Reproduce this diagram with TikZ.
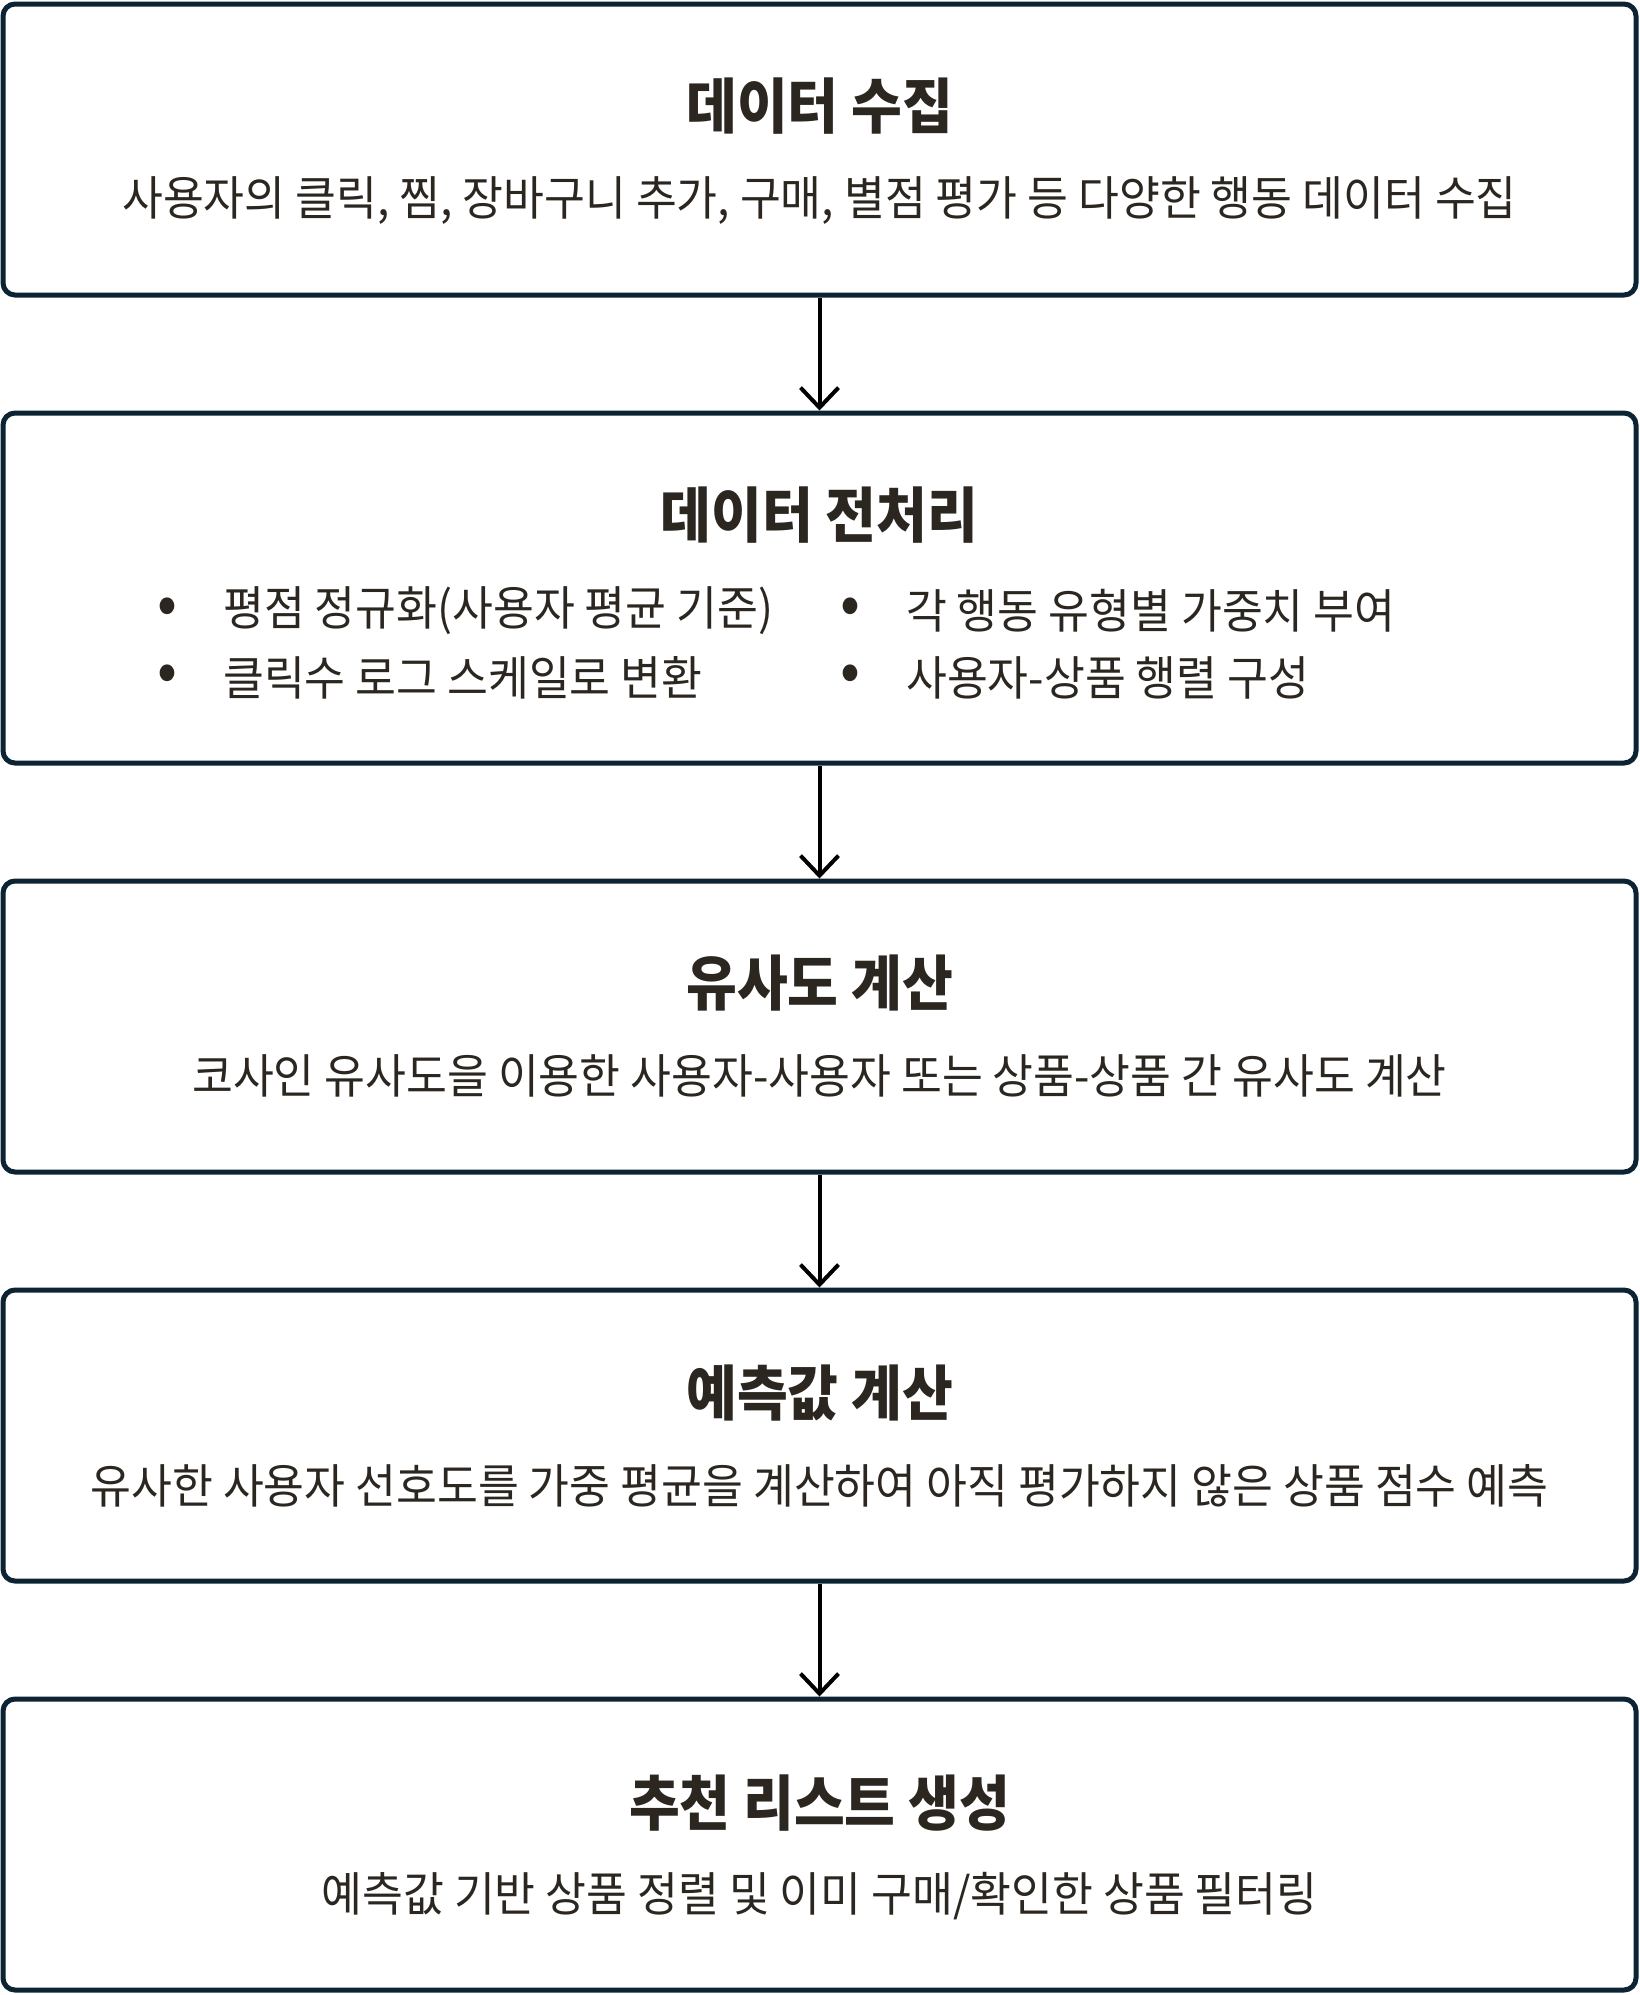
\documentclass[tikz,border=0pt]{standalone}
\usepackage{fontspec}
\setmainfont{Noto Sans CJK KR}[FakeStretch=0.945]
\newfontfamily\titlef{Noto Sans CJK KR}[FakeStretch=0.92]
\usetikzlibrary{arrows.meta}
\definecolor{bordercol}{HTML}{0B2332}
\definecolor{textcol}{HTML}{2B2620}
\tikzset{
  stagebox/.style={draw=bordercol, line width=5pt, rounded corners=12pt, minimum width=1633pt, inner sep=0pt, fill=white},
  titletext/.style={text=textcol, font=\titlef\bfseries\fontsize{60}{72}\selectfont, inner sep=0pt, anchor=center},
  bodytext/.style={text=textcol, font=\fontsize{47}{56}\selectfont, inner sep=0pt, anchor=center},
  itemtext/.style={text=textcol, font=\fontsize{47}{56}\selectfont, inner sep=0pt, anchor=west},
  dottext/.style={text=textcol, font=\fontsize{62}{70}\selectfont, inner sep=0pt, anchor=center},
  flowarrow/.style={draw=black, line width=4pt, -{Straight Barb[length=20pt, width=38pt, line width=4pt]}}
}
\begin{document}
\begin{tikzpicture}[x=1pt, y=-1pt]
\useasboundingbox (0,0) rectangle (1639,1995);
% boxes
\node[stagebox, minimum height=291pt] (b1) at (819.5,149.5) {};
\node[stagebox, minimum height=350pt] (b2) at (819.5,588) {};
\node[stagebox, minimum height=291pt] (b3) at (819.5,1026.5) {};
\node[stagebox, minimum height=291pt] (b4) at (819.5,1435.5) {};
\node[stagebox, minimum height=291pt] (b5) at (819.5,1844.5) {};
% box 1
\node[titletext] (t1) at (819.5,106) {데이터 수집};
\node[bodytext] (s1) at (819.5,201) {사용자의 클릭, 찜, 장바구니 추가, 구매, 별점 평가 등 다양한 행동 데이터 수집};
% box 2
\node[titletext] (t2) at (819.5,515) {데이터 전처리};
\node[dottext] (d1) at (167,611) {•};
\node[itemtext] (i1) at (223,611) {평점 정규화(사용자 평균 기준)};
\node[dottext] (d2) at (167,678) {•};
\node[itemtext] (i2) at (223,678) {클릭수 로그 스케일로 변환};
\node[dottext] (d3) at (850,611) {•};
\node[itemtext] (i3) at (906,611) {각 행동 유형별 가중치 부여};
\node[dottext] (d4) at (850,678) {•};
\node[itemtext] (i4) at (906,678) {사용자-상품 행렬 구성};
% box 3
\node[titletext] (t3) at (819.5,983) {유사도 계산};
\node[bodytext] (s3) at (819.5,1076) {코사인 유사도을 이용한 사용자-사용자 또는 상품-상품 간 유사도 계산};
% box 4
\node[titletext] (t4) at (819.5,1393) {예측값 계산};
\node[bodytext] (s4) at (819.5,1486) {유사한 사용자 선호도를 가중 평균을 계산하여 아직 평가하지 않은 상품 점수 예측};
% box 5
\node[titletext] (t5) at (819.5,1803) {추천 리스트 생성};
\node[bodytext] (s5) at (819.5,1896) {예측값 기반 상품 정렬 및 이미 구매/확인한 상품 필터링};
% arrows
\draw[flowarrow] (b1.south) -- (b2.north);
\draw[flowarrow] (b2.south) -- (b3.north);
\draw[flowarrow] (b3.south) -- (b4.north);
\draw[flowarrow] (b4.south) -- (b5.north);
\end{tikzpicture}
\end{document}
